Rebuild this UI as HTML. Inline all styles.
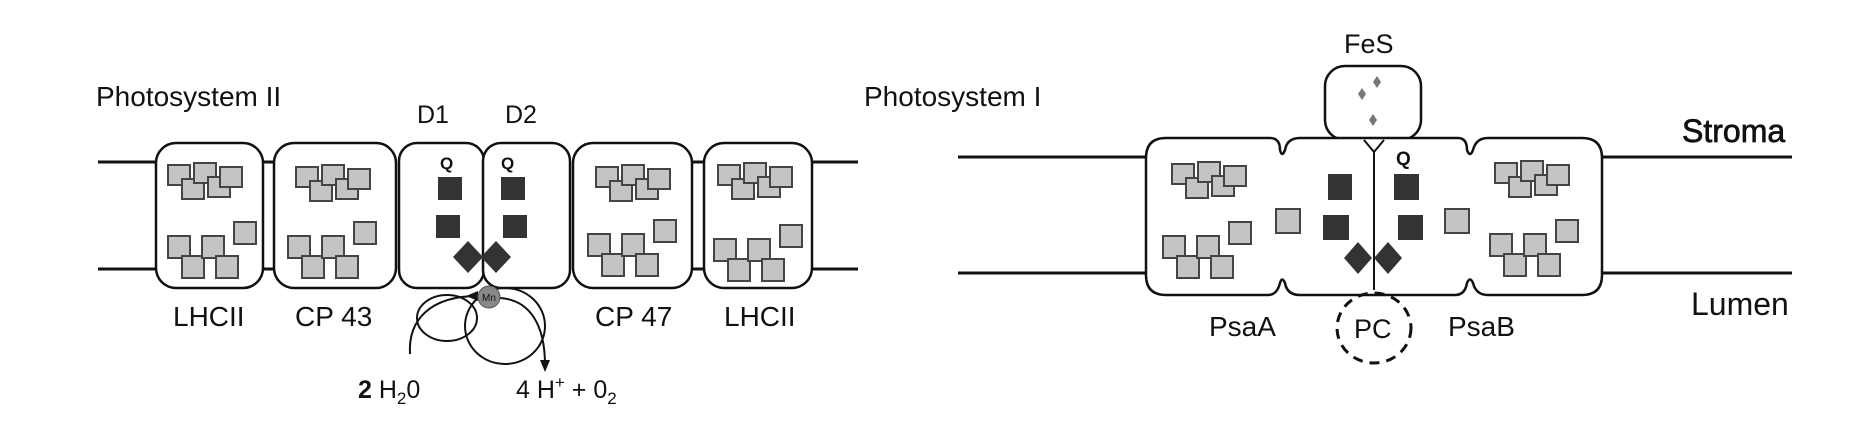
<!DOCTYPE html>
<html><head><meta charset="utf-8"><style>
html,body{margin:0;padding:0;background:#fff;}
svg{display:block;}
text{font-family:"Liberation Sans",sans-serif;fill:#111;}
</style></head><body>
<svg width="1870" height="440" viewBox="0 0 1870 440" xmlns="http://www.w3.org/2000/svg">
<defs>
<g id="ct" fill="#c4c4c4" stroke="#444" stroke-width="2">
<rect x="0" y="0" width="22" height="20"/>
<rect x="14" y="14" width="22" height="20"/>
<rect x="26" y="-2" width="22" height="20"/>
<rect x="40" y="12" width="22" height="20"/>
<rect x="52" y="2" width="22" height="20"/>
</g>
<g id="cb" fill="#c4c4c4" stroke="#444" stroke-width="2">
<rect x="0" y="14" width="22" height="22"/>
<rect x="14" y="34" width="22" height="22"/>
<rect x="34" y="14" width="22" height="22"/>
<rect x="48" y="34" width="22" height="22"/>
<rect x="66" y="0" width="22" height="22"/>
</g>
</defs>

<!-- PSII -->
<text x="96" y="106" font-size="28">Photosystem II</text>
<text x="417" y="123" font-size="25">D1</text>
<text x="505" y="123" font-size="25">D2</text>
<g stroke="#111" stroke-width="3" fill="none">
<line x1="98" y1="162" x2="157" y2="162"/><line x1="98" y1="269" x2="157" y2="269"/>
<line x1="810" y1="162" x2="858" y2="162"/><line x1="810" y1="269" x2="858" y2="269"/>
<line x1="262" y1="162" x2="274" y2="162"/><line x1="262" y1="269" x2="274" y2="269"/>
<line x1="690" y1="162" x2="705" y2="162"/><line x1="690" y1="269" x2="705" y2="269"/>
</g>
<g stroke="#111" stroke-width="2.5" fill="#fff">
<rect x="156" y="143" width="107" height="145" rx="20"/>
<rect x="274" y="143" width="122" height="145" rx="20"/>
<rect x="399" y="143" width="85" height="145" rx="18"/>
<rect x="483" y="143" width="87" height="145" rx="18"/>
<rect x="573" y="143" width="119" height="145" rx="20"/>
<rect x="704" y="143" width="108" height="145" rx="20"/>
</g>
<use href="#ct" x="168" y="165"/><use href="#cb" x="168" y="222"/>
<use href="#ct" x="296" y="167"/><use href="#cb" x="288" y="222"/>
<use href="#ct" x="596" y="167"/><use href="#cb" x="588" y="220"/>
<use href="#ct" x="718" y="165"/><use href="#cb" x="714" y="225"/>
<text x="440" y="169" font-size="17" font-weight="bold">Q</text>
<text x="501" y="169" font-size="17" font-weight="bold">Q</text>
<g fill="#333"><rect x="438" y="177" width="24" height="23"/><rect x="436" y="215" width="24" height="23"/>
<rect x="501" y="177" width="24" height="23"/><rect x="503" y="215" width="24" height="23"/>
<polygon points="468,241 483,257 468,273 453,257"/><polygon points="496,241 511,257 496,273 481,257"/></g>
<g stroke="#111" stroke-width="2" fill="none">
<ellipse cx="447" cy="318" rx="30" ry="23"/>
<ellipse cx="505" cy="326" rx="40" ry="38"/>
<path d="M410,354 C408,320 430,296 478,296"/>
<path d="M500,298 C530,300 545,325 545,365"/>
</g>
<polygon points="540,360 550,360 545,372" fill="#111"/>
<polygon points="478,291 478,301 466,296" fill="#111"/>
<circle cx="489" cy="297" r="11" fill="#888" stroke="#555"/>
<text x="482" y="301" font-size="10" fill="#333">Mn</text>
<text x="173" y="326" font-size="28">LHCII</text>
<text x="295" y="326" font-size="28">CP 43</text>
<text x="595" y="326" font-size="28">CP 47</text>
<text x="724" y="326" font-size="28">LHCII</text>
<text x="358" y="398" font-size="25" font-weight="bold">2 <tspan font-weight="normal">H</tspan><tspan font-size="17" dy="6" font-weight="normal">2</tspan><tspan dy="-6" font-weight="normal">0</tspan></text>
<text x="516" y="398" font-size="25">4 H<tspan font-size="17" dy="-10">+</tspan><tspan dy="10"> + 0</tspan><tspan font-size="17" dy="6">2</tspan></text>

<!-- PSI -->
<text x="864" y="106" font-size="28">Photosystem I</text>
<text x="1344" y="53" font-size="27">FeS</text>
<g stroke="#111" stroke-width="3">
<line x1="958" y1="157" x2="1148" y2="157"/><line x1="958" y1="273" x2="1148" y2="273"/>
<line x1="1600" y1="157" x2="1792" y2="157"/><line x1="1600" y1="273" x2="1792" y2="273"/>
</g>
<rect x="1325" y="66" width="96" height="74" rx="20" fill="#fff" stroke="#111" stroke-width="2.5"/>
<path d="M1166,138 L1270,138 Q1280,138 1280,150 Q1282,158 1285,150 Q1287,138 1300,138 L1458,138 Q1467,138 1467,150 Q1470,158 1473,150 Q1476,138 1488,138 L1582,138 Q1602,138 1602,158 L1602,275 Q1602,295 1582,295 L1488,295 Q1476,295 1473,283 Q1470,276 1467,283 Q1465,295 1455,295 L1300,295 Q1287,295 1285,283 Q1282,276 1280,283 Q1277,295 1268,295 L1166,295 Q1146,295 1146,275 L1146,158 Q1146,138 1166,138 Z" fill="#fff" stroke="#111" stroke-width="2.5"/>
<line x1="1374" y1="150" x2="1374" y2="290" stroke="#111" stroke-width="2"/>
<path d="M1364,140 L1374,152 L1384,140" fill="none" stroke="#111" stroke-width="2"/>
<g fill="#777"><polygon points="1377,76 1381,82 1377,88 1373,82"/><polygon points="1362,88 1366,94 1362,100 1358,94"/><polygon points="1373,114 1377,120 1373,126 1369,120"/></g>
<text x="1396" y="165" font-size="19" font-weight="bold">Q</text>
<g fill="#333"><rect x="1328" y="174" width="24" height="26"/><rect x="1323" y="215" width="26" height="25"/>
<rect x="1394" y="174" width="25" height="26"/><rect x="1398" y="215" width="25" height="25"/>
<polygon points="1358,242 1372,258 1358,274 1344,258"/><polygon points="1388,242 1402,258 1388,274 1374,258"/></g>
<g fill="#c4c4c4" stroke="#444" stroke-width="2"><rect x="1276" y="209" width="24" height="24"/><rect x="1445" y="209" width="24" height="24"/></g>
<use href="#ct" x="1172" y="164"/><use href="#cb" x="1163" y="222"/>
<use href="#ct" x="1495" y="163"/><use href="#cb" x="1490" y="220"/>
<ellipse cx="1374" cy="328" rx="37" ry="35" fill="none" stroke="#111" stroke-width="3" stroke-dasharray="10,7"/>
<text x="1354" y="338" font-size="27">PC</text>
<text x="1209" y="336" font-size="28">PsaA</text>
<text x="1448" y="336" font-size="28">PsaB</text>
<text x="1682" y="142" font-size="32" stroke="#111" stroke-width="0.7">Stroma</text>
<text x="1691" y="315" font-size="32">Lumen</text>
</svg>
</body></html>
